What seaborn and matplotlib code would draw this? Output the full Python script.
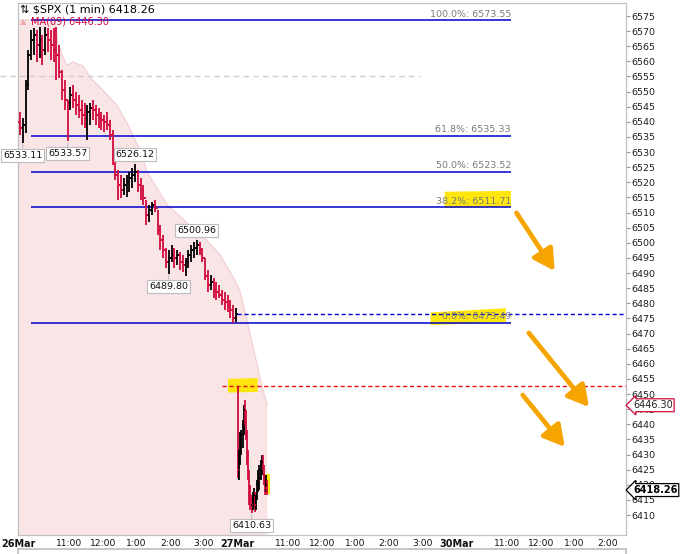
import numpy as np
import seaborn as sns
import matplotlib.pyplot as plt
from matplotlib.patches import Polygon

# x axis = trading minutes since 9:30 on 26 Mar (27 Mar starts at 390, 30 Mar at 780)

# 26 Mar, 5-minute bars
day1_open0 = 6540.0
day1_high = [6543.3, 6541.3, 6553.8, 6563.8, 6570.4, 6571.0, 6570.4, 6571.4, 6568.7, 6571.4,
             6571.0, 6570.4, 6571.0, 6571.4, 6565.4, 6557.2, 6553.8, 6547.2, 6551.5, 6552.2,
             6549.9, 6548.9, 6547.2, 6546.2, 6545.6, 6546.2, 6547.2, 6545.6, 6544.6, 6543.3,
             6542.3, 6543.3, 6540.6, 6537.3, 6529.0, 6524.1, 6522.4, 6521.4, 6522.4, 6523.4,
             6524.7, 6526.12, 6524.1, 6521.4, 6519.1, 6514.2, 6512.5, 6513.5, 6514.2, 6510.9,
             6505.9, 6502.6, 6498.3, 6497.6, 6499.3, 6498.3, 6497.6, 6497.0, 6496.0, 6494.9,
             6497.6, 6499.3, 6500.3, 6500.96, 6500.3, 6498.3, 6494.9, 6491.0, 6489.4, 6488.4,
             6487.0, 6486.0, 6484.4, 6483.7, 6482.7, 6481.1, 6479.4, 6478.4]
day1_low = [6535.7, 6533.11, 6536.3, 6550.5, 6560.5, 6562.1, 6559.8, 6561.1, 6558.8, 6562.1,
            6563.1, 6560.5, 6559.8, 6553.8, 6554.5, 6547.2, 6543.9, 6533.57, 6543.9, 6544.6,
            6542.3, 6541.3, 6539.0, 6538.0, 6534.0, 6539.0, 6540.6, 6539.0, 6538.0, 6537.3,
            6536.6, 6537.3, 6534.0, 6525.7, 6520.8, 6514.2, 6514.8, 6515.8, 6515.2, 6516.8,
            6518.1, 6520.1, 6516.8, 6514.2, 6512.5, 6505.9, 6506.9, 6509.2, 6510.2, 6502.6,
            6497.6, 6494.9, 6491.7, 6489.80, 6493.6, 6491.7, 6492.7, 6491.0, 6490.4, 6489.0,
            6491.7, 6493.6, 6494.9, 6496.0, 6496.0, 6493.6, 6487.7, 6483.7, 6484.4, 6481.7,
            6481.1, 6481.7, 6479.4, 6477.8, 6477.1, 6475.1, 6473.49, 6473.8]
day1_close = [6538.0, 6539.0, 6552.2, 6562.1, 6567.1, 6568.7, 6565.4, 6567.1, 6563.8, 6568.7,
              6567.1, 6565.4, 6563.8, 6562.1, 6556.5, 6550.5, 6547.2, 6546.2, 6549.0, 6547.2,
              6545.6, 6543.9, 6542.3, 6541.3, 6543.3, 6544.6, 6543.9, 6542.3, 6541.3, 6540.6,
              6540.0, 6539.0, 6535.7, 6527.4, 6522.4, 6519.1, 6517.5, 6519.1, 6520.1, 6521.4,
              6522.4, 6523.4, 6519.1, 6517.5, 6514.8, 6509.2, 6510.9, 6512.5, 6511.5, 6504.2,
              6500.9, 6497.6, 6493.6, 6494.9, 6496.0, 6494.9, 6496.0, 6493.6, 6492.7, 6493.6,
              6496.0, 6497.6, 6498.3, 6499.3, 6497.6, 6494.9, 6489.0, 6486.0, 6487.0, 6484.4,
              6483.7, 6482.7, 6481.1, 6480.4, 6479.4, 6477.8, 6475.1, 6476.5]

# 27 Mar, 2-minute bars
day2_open0 = 6452.0
day2_high = [6452.6, 6431.5, 6437.4, 6438.1, 6441.4, 6446.4, 6448.0, 6444.7, 6438.1, 6431.5,
             6424.9, 6419.9, 6416.6, 6417.6, 6418.9, 6417.6, 6416.6, 6421.6, 6424.9, 6426.5,
             6428.2, 6429.8, 6429.8, 6426.5, 6423.2, 6423.2, 6421.6]
day2_low = [6422.2, 6421.6, 6426.5, 6430.0, 6432.1, 6436.4, 6439.8, 6434.8, 6426.5, 6421.6,
            6413.3, 6411.6, 6410.63, 6411.6, 6412.3, 6411.0, 6411.6, 6414.9, 6417.6, 6418.3,
            6421.6, 6423.2, 6424.9, 6419.9, 6416.6, 6417.6, 6416.6]
day2_close = [6424.9, 6429.8, 6434.8, 6436.4, 6440.0, 6444.7, 6441.4, 6436.4, 6429.8, 6423.2,
              6416.6, 6414.9, 6413.3, 6414.9, 6416.6, 6413.3, 6415.6, 6419.9, 6422.2, 6424.9,
              6426.5, 6427.5, 6425.5, 6421.6, 6418.9, 6419.9, 6418.26]

# moving average (upper edge of the pink area)
ma_time = [0, 65, 70, 79, 86, 97, 115, 127, 150, 175, 195, 216, 229, 264, 300, 335, 359,
           382, 394, 408, 423, 433, 443]
ma_value = [6573.7, 6573.7, 6566.1, 6561.5, 6558.8, 6559.8, 6558.5, 6554.8, 6550.5, 6545.6,
            6539.0, 6530.7, 6523.4, 6512.8, 6506.6, 6500.9, 6496.0, 6488.7, 6484.4, 6473.5,
            6461.3, 6453.0, 6446.3]

fib_pct = ['100.0%', '61.8%', '50.0%', '38.2%', '0.0%']
fib_level = [6573.55, 6535.33, 6523.52, 6511.71, 6473.49]

callout_time = [7.5, 87.5, 207.5, 317.5, 267.5, 415]
callout_price = [6533.11, 6533.57, 6526.12, 6500.96, 6489.80, 6410.63]
callout_side = ['below', 'below', 'above', 'above', 'below', 'below']

tick_pos = [0, 90, 150, 210, 270, 330, 390, 480, 540, 600, 660, 720, 780, 870, 930, 990, 1050]
tick_lab = ['26Mar', '11:00', '12:00', '1:00', '2:00', '3:00', '27Mar', '11:00', '12:00',
            '1:00', '2:00', '3:00', '30Mar', '11:00', '12:00', '1:00', '2:00']

last_price = 6418.26
ma_last = 6446.30

RED = '#d20a3c'
BLUE = '#0000cc'
GRID = '#c0c0c0'

sns.set_theme(style="white")
plt.rcParams['font.family'] = ['DejaVu Sans']

fig = plt.figure(figsize=(6.88, 5.54), dpi=100)
ax = fig.add_axes([18 / 688, 19 / 554, 608 / 688, 532 / 554])
ax.set_xlim(-1, 1082)
ax.set_ylim(6403.4, 6579.3)

# pink MA area
ax.fill_between(ma_time, ma_value, 6300, color='#f9e4e6', lw=0, zorder=1)
sns.lineplot(x=ma_time, y=ma_value, ax=ax, color='#f2cdd1', lw=0.8, zorder=1)


def draw_bars(t, o, h, l, c, w):
    t = np.asarray(t, float)
    col = np.where(np.asarray(c) >= np.asarray(o), 'black', RED)
    ax.vlines(t, l, h, colors=col, lw=1.3, zorder=4)
    ax.hlines(o, t - w, t, colors=col, lw=1.3, zorder=4)
    ax.hlines(c, t, t + w, colors=col, lw=1.3, zorder=4)


t1 = [5 * i + 2.5 for i in range(len(day1_close))]
o1 = [day1_open0] + day1_close[:-1]
draw_bars(t1, o1, day1_high, day1_low, day1_close, 3.2)

t2 = [390 + 2 * j + 1 for j in range(len(day2_close))]
o2 = [day2_open0] + day2_close[:-1]
draw_bars(t2, o2, day2_high, day2_low, day2_close, 2.2)

# highlighter strokes
yellow = '#ffe600'
for pts in ([(759, 6516.9), (877, 6517.2), (877, 6511.9), (759, 6511.6)],
            [(734, 6477.0), (868, 6478.4), (868, 6473.8), (734, 6472.8)],
            [(373, 6455.0), (426, 6455.3), (426, 6450.7), (373, 6450.5)],
            [(439, 6423.5), (447, 6423.5), (447, 6416.9), (439, 6416.9)]):
    ax.add_patch(Polygon(pts, closed=True, fc=yellow, ec='none', alpha=0.95, zorder=2.5))

# fibonacci retracement
ax.hlines(fib_level, 22, 877, colors=BLUE, lw=1.1, zorder=3)
for pct, lev in zip(fib_pct, fib_level):
    ax.annotate(f'{pct}: {lev:.2f}', xy=(877, lev), xytext=(0, 1.2),
                textcoords='offset points', ha='right', va='bottom',
                fontsize=6.8, color='#7a7a7a', zorder=5)

# horizontal level lines
ax.hlines(6476.5, 389, 1082, colors=BLUE, lw=1.0, linestyles=(0, (3, 2)), zorder=3)
ax.hlines(6452.6, 362, 1082, colors='#ee1111', lw=1.0, linestyles=(0, (3, 2)), zorder=3)
ax.plot([-33, 715], [6555.2, 6555.2], color='#cfcfcf', lw=1.0, ls=(0, (4, 3)),
        clip_on=False, zorder=2)

# orange arrows
for (x0, y0), (x1, y1) in zip([(887, 6509.9), (909, 6470.2), (898, 6449.7)],
                              [(955, 6490.7), (1016, 6445.7), (973, 6432.5)]):
    ax.annotate('', xy=(x1, y1), xytext=(x0, y0),
                arrowprops=dict(arrowstyle='-|>,head_length=0.9,head_width=0.5',
                                lw=3.4, color='#f6a500', mutation_scale=14,
                                shrinkA=0, shrinkB=0), zorder=6)

# high / low callouts
for t, p, side in zip(callout_time, callout_price, callout_side):
    dy = -9 if side == 'below' else 7
    ax.annotate(f'{p:.2f}', xy=(t, p), xytext=(0, dy), textcoords='offset points',
                ha='center', va='center', fontsize=6.8, color='#111111', zorder=7,
                bbox=dict(boxstyle='square,pad=0.2', fc='white', ec='#bdbdbd', lw=0.8),
                arrowprops=dict(arrowstyle='-', color='#bdbdbd', lw=0.8,
                                shrinkA=0, shrinkB=1))

# axes styling
for s in ax.spines.values():
    s.set_color(GRID)
    s.set_linewidth(0.9)
ax.yaxis.tick_right()
ax.set_yticks(np.arange(6410, 6576, 5))
ax.tick_params(axis='y', right=True, direction='out', length=3, width=0.8, colors='#9a9a9a',
               labelcolor='#1e1e1e', labelsize=6.8, pad=1)
ax.set_xticks(tick_pos, tick_lab)
ax.tick_params(axis='x', bottom=False, length=0, pad=3, labelsize=6.6, labelcolor='#111111')
for lab in ax.get_xticklabels():
    if 'Mar' in lab.get_text():
        lab.set_fontweight('bold')
        lab.set_fontsize(6.9)

# price flags on the right scale (they sit on top of the scale labels, as in the source)
ax.annotate(f'{ma_last:.2f}', xy=(1, ma_last), xycoords=('axes fraction', 'data'),
            xytext=(5, 0), textcoords='offset points', ha='left', va='center',
            fontsize=7, color='#222222', annotation_clip=False, zorder=8,
            bbox=dict(boxstyle='larrow,pad=0.15', fc='white', ec=RED, lw=0.9))
ax.annotate(f'{last_price:.2f}', xy=(1, last_price), xycoords=('axes fraction', 'data'),
            xytext=(5, 0), textcoords='offset points', ha='left', va='center',
            fontsize=7, fontweight='bold', color='black', annotation_clip=False, zorder=8,
            bbox=dict(boxstyle='larrow,pad=0.15', fc='white', ec='black', lw=0.9))

# header
fig.text(20 / 688, 1 - 10 / 554, '⇅ \\$SPX (1 min) 6418.26', fontsize=8, va='center',
         color='black')
fig.text(20 / 688, 1 - 21.5 / 554, '▲', fontsize=6, va='center', color='#f0a8b2')
fig.text(31 / 688, 1 - 21.5 / 554, f'MA(09) {ma_last:.2f}', fontsize=7, va='center',
         color=RED)

# top edge of the lower panel
low = fig.add_axes([18 / 688, -0.02, 608 / 688, 0.02 + 5 / 554])
low.set_xticks([])
low.set_yticks([])
for s in low.spines.values():
    s.set_color(GRID)

fig.savefig('out.png', dpi=100)
